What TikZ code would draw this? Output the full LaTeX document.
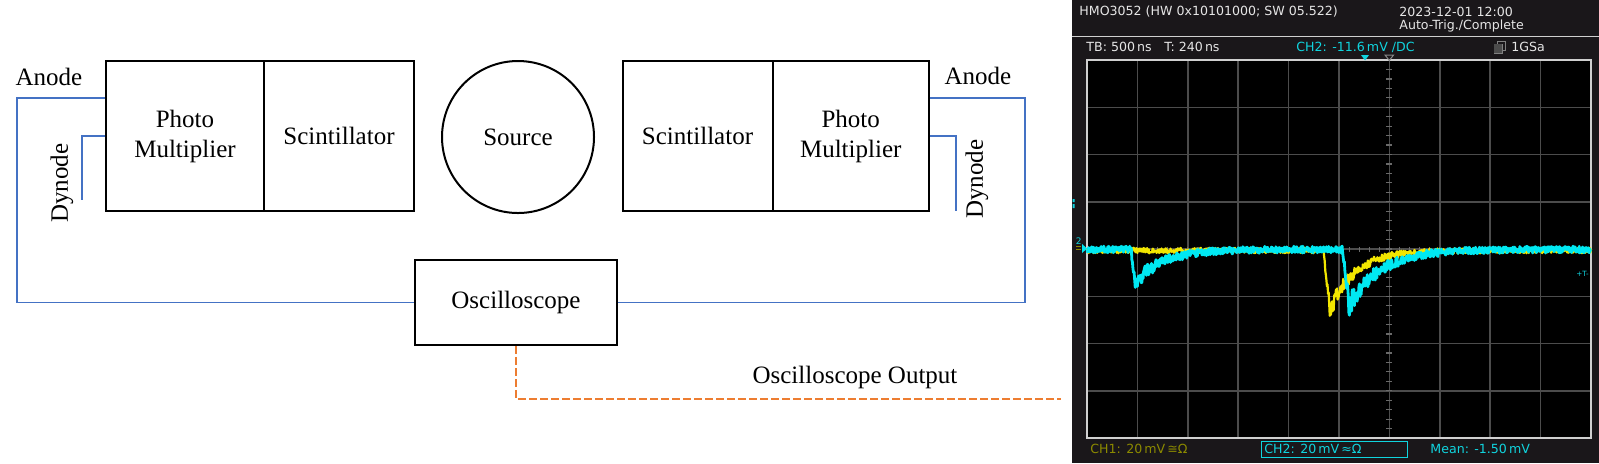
\documentclass[tikz,border=0pt]{standalone}
\usepackage{fontspec}
\setmainfont{Liberation Serif}
\newfontfamily\scopefont{DejaVu Sans}
\usetikzlibrary{calc}
\definecolor{wireblue}{HTML}{4472C4}
\definecolor{outorange}{HTML}{ED7D31}
\definecolor{panel}{HTML}{1A171A}
\definecolor{gridgray}{HTML}{4C4C4C}
\definecolor{tickgray}{HTML}{6A6A6A}
\definecolor{bordergray}{HTML}{D0D0D0}
\definecolor{tracecyan}{HTML}{00E8F2}
\definecolor{traceyellow}{HTML}{F2E600}
\definecolor{chone}{HTML}{8C8A00}
\definecolor{chtwo}{HTML}{10D4DE}
\definecolor{hdrwhite}{HTML}{E6E6E6}
\begin{document}
\begin{tikzpicture}[x=0.5pt,y=-0.5pt,
  diag/.style={font=\fontsize{12.5}{15}\selectfont, inner sep=0pt, align=center},
  blockbox/.style={diag, draw, line width=1pt, minimum height=75pt},
  wire/.style={wireblue, line width=0.6pt},
  outline/.style={outorange, line width=1pt, dash pattern=on 3.75pt off 1.75pt},
  stxt/.style={font=\scopefont\fontsize{6.3}{7}\selectfont, inner sep=0pt, anchor=west},
  declare function={pulse(\qx,\qo,\qm,\qa,\qt)=\qa*min(max((\qx-\qo)/(\qm-\qo),0),1)*exp(-max(\qx-\qm,0)/\qt);}
]
\useasboundingbox (0,0) rectangle (1599,463);
\fill[white] (0,0) rectangle (1599,463);

% ---------------- diagram ----------------
\node[blockbox, minimum width=79pt] (pm1) at (185,136) {Photo\\Multiplier};
\node[blockbox, minimum width=75pt] (sc1) at (339,136) {Scintillator};
\node[diag, draw, circle, line width=1pt, minimum size=76pt] (src) at (518,137) {Source};
\node[blockbox, minimum width=75pt] (sc2) at (697.5,136) {Scintillator};
\node[blockbox, minimum width=78pt] (pm2) at (850.75,136) {Photo\\Multiplier};
\node[blockbox, minimum width=101pt, minimum height=42.5pt] (osc) at (516,302.5) {Oscilloscope};

\node[diag] (anL) at (49,77) {Anode};
\node[diag, rotate=90] (dyL) at (62,183) {Dynode};
\node[diag] (anR) at (978,76) {Anode};
\node[diag, rotate=90] (dyR) at (977,179) {Dynode};
\node[diag] (oscout) at (855,377) {Oscilloscope Output};

\coordinate (apL) at ($(pm1.north west)!0.25!(pm1.south west)$);
\coordinate (apR) at ($(pm2.north east)!0.25!(pm2.south east)$);
\coordinate (cornerL) at (17,0);
\coordinate (cornerR) at (1025,0);
\coordinate (dyendL) at (82,200);
\coordinate (dyendR) at (956,211);
\coordinate (scopein) at (1061,399);

\draw[wire] (apL) -| (cornerL |- osc.west) -- (osc.west);
\draw[wire] (pm1.west) -| (dyendL);
\draw[wire] (apR) -| (cornerR |- osc.east) -- (osc.east);
\draw[wire] (pm2.east) -| (dyendR);
\draw[outline] (osc.south) |- (scopein);

% ---------------- oscilloscope screenshot ----------------
\fill[panel] (1072,0) rectangle (1599,463);
\draw[bordergray, line width=0.5pt] (1072,36.5) -- (1599,36.5);
\fill[black] (1087,60) rectangle (1591,438);
\foreach \i in {1,...,9} \draw[gridgray, line width=0.75pt] ({1087+50.4*\i},60) -- ({1087+50.4*\i},438);
\foreach \j in {1,...,7} \draw[gridgray, line width=0.75pt] (1087,{60+47.25*\j}) -- (1591,{60+47.25*\j});
\foreach \k in {1,...,39} \draw[tickgray, line width=0.6pt] (1386.4,{60+9.45*\k}) -- (1392.4,{60+9.45*\k});
\foreach \k in {1,...,49} \draw[tickgray, line width=0.6pt] ({1087+10.08*\k},246.5) -- ({1087+10.08*\k},252);
\draw[bordergray, line width=0.6pt] (1087,60) rectangle (1591,438);

\pgfmathsetseed{4711}
\draw[traceyellow, line width=1.1pt, line join=round] plot[domain=1087:1591, samples=900]
  (\x,{250.5+pulse(\x,1323.5,1330,60,25)+(2.8+0.12*pulse(\x,1323.5,1330,60,25))*rand});
\draw[tracecyan, line width=1.4pt, line join=round] plot[domain=1087:1591, samples=900]
  (\x,{249.5+pulse(\x,1131,1135,33,28)+pulse(\x,1342.5,1349,56,31)+(3.4+0.14*pulse(\x,1131,1135,33,28)+0.14*pulse(\x,1342.5,1349,56,31))*rand});

% markers
\fill[tracecyan] (1082,244) -- (1087,248.5) -- (1082,253) -- cycle;
\node[stxt, text=chtwo, font=\scopefont\fontsize{4.5}{5}\selectfont] (mk2) at (1075.5,241) {2};
\draw[chone, line width=0.5pt] (1076,246.5) -- (1081,246.5) (1076,249) -- (1081,249);
\fill[chtwo] (1072.5,199) rectangle (1074.5,202) (1072.5,204) rectangle (1074.5,208);
\node[stxt, text=chtwo, font=\scopefont\fontsize{3.6}{4}\selectfont] (tmk) at (1576,274) {+T-};
\fill[chtwo] (1361,55) -- (1369,55) -- (1365,60.5) -- cycle;
\draw[tickgray!80!white, line width=0.5pt] (1385,55) -- (1393.5,55) -- (1389.3,60.5) -- cycle;

% header texts
\node[stxt, text=hdrwhite] (hdr) at (1079,12) {HMO3052 (HW 0x10101000; SW 05.522)};
\node[stxt, text=hdrwhite] (date) at (1399,12) {2023-12-01 12:00};
\node[stxt, text=hdrwhite] (trig) at (1399,26.5) {Auto-Trig./Complete};
\node[stxt, text=hdrwhite] (tb) at (1086,47) {TB: 500\,ns\quad T: 240\,ns};
\node[stxt, text=chtwo] (ch2top) at (1296,47) {CH2: -11.6\,mV /DC};
\draw[gray, line width=0.5pt] (1494,44) rectangle (1502,53) (1497,41.5) rectangle (1505.5,50.5);
\fill[gray!60!black] (1494.3,44.3) rectangle (1501.7,52.7);
\node[stxt, text=hdrwhite] (gsa) at (1511,47) {1GSa};

% bottom texts
\node[stxt, text=chone] (ch1) at (1090,449) {CH1: 20\,mV\,≅Ω};
\draw[chtwo, line width=0.5pt] (1261.4,441.3) rectangle (1407.8,457);
\node[stxt, text=chtwo] (ch2) at (1264,449) {CH2: 20\,mV\,≈Ω};
\node[stxt, text=chtwo] (mean) at (1430,449) {Mean: -1.50\,mV};
\end{tikzpicture}
\end{document}
